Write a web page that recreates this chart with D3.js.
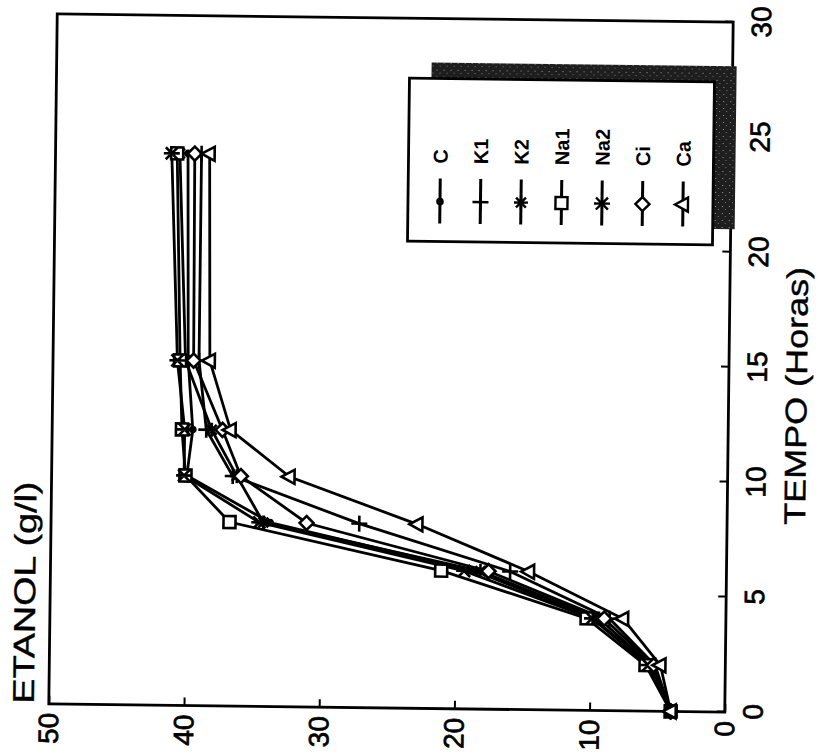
<!DOCTYPE html>
<html>
<head>
<meta charset="utf-8">
<script src="https://cdn.jsdelivr.net/npm/d3@7"></script>
<style>
  body { margin: 0; background: #fff; }
  text { font-family: "Liberation Sans", Arial, sans-serif; fill: #000; }
</style>
</head>
<body>
<svg width="828" height="756"></svg>
<script>
// data (ETANOL g/l vs TEMPO horas)
const horas = [0, 2, 4, 6, 8, 10, 12, 15, 24];
const serieC   = [4.0, 5.6, 9.8, 18.6, 33.8, 40.0, 39.6, 40.0, 40.2];
const serieK1  = [4.0, 5.2, 8.6, 16.0, 27.2, 36.6, 38.6, 39.2, 39.2];
const serieK2  = [4.0, 5.5, 9.4, 18.2, 34.3, 36.3, 38.2, 40.2, 40.8];
const serieNa1 = [4.0, 5.9, 10.3, 21.1, 36.8, 40.1, 40.4, 40.6, 41.0];
const serieNa2 = [4.0, 5.7, 9.9, 19.4, 34.6, 40.2, 40.2, 40.8, 41.4];
const serieCi  = [4.0, 5.3, 9.0, 17.6, 31.1, 36.0, 37.4, 39.6, 39.7];
const serieCa  = [4.0, 4.8, 7.6, 14.6, 22.9, 32.4, 36.8, 38.4, 38.6];
const nomes = ["C", "K1", "K2", "Na1", "Na2", "Ci", "Ca"];
const tempoTicks = [0, 5, 10, 15, 20, 25, 30];
const etanolTicks = [0, 10, 20, 30, 40, 50];

let W = 690, H = 676;   // plot size before the figure is turned on its side

var svg = d3.select('svg');

// speckled fill for the legend shadow
let pat = svg.append('defs').append('pattern')
    .attr('id', 'speckle')
    .attr('width', 7)
    .attr('height', 7)
    .attr('patternUnits', 'userSpaceOnUse');
pat.append('rect').attr('width', 7).attr('height', 7).attr('fill', '#1e1e1e');
pat.append('rect').attr('x', 1).attr('y', 2).attr('width', 1).attr('height', 1).attr('fill', '#9a9a9a');
pat.append('rect').attr('x', 5).attr('y', 5).attr('width', 1).attr('height', 1).attr('fill', '#777');

// the whole figure is printed rotated 90deg, and the scan is a little skewed
let chart = svg.append('g')
    .attr('transform', 'rotate(0.7, 391, 363) translate(53, 708) rotate(-90)');

var x = d3.scaleLinear().domain([0, 30]).range([0, W]);
var y = d3.scaleLinear().domain([0, 50]).range([H, 0]);

// markers, drawn in the unrotated frame
function markerPath(kind) {
    var p = d3.path();
    if (kind == 'dot') {
        p.arc(0, 0, 2.6, 0, 2 * Math.PI);
    } else if (kind == 'plus') {
        p.moveTo(-8, 0); p.lineTo(8, 0); p.moveTo(0, -8); p.lineTo(0, 8);
    } else if (kind == 'asterisk') {
        for (var i = 0; i < 4; i++) {
            var a = i * Math.PI / 4;
            p.moveTo(-7 * Math.cos(a), -7 * Math.sin(a));
            p.lineTo(7 * Math.cos(a), 7 * Math.sin(a));
        }
    } else if (kind == 'star') {
        p.moveTo(-6, -6); p.lineTo(6, 6); p.moveTo(-6, 6); p.lineTo(6, -6);
        p.moveTo(0, -8); p.lineTo(0, 8);
    } else if (kind == 'square') {
        p.rect(-6, -6, 12, 12);
    } else if (kind == 'diamond') {
        p.moveTo(0, -7); p.lineTo(7, 0); p.lineTo(0, 7); p.lineTo(-7, 0); p.closePath();
    } else if (kind == 'triangle') {
        p.moveTo(0, -8); p.lineTo(7, 5); p.lineTo(-7, 5); p.closePath();
    }
    return p.toString();
}
var markerKinds = ['dot', 'plus', 'asterisk', 'square', 'star', 'diamond', 'triangle'];
function markerFill(kind) {
    if (kind == 'dot') return '#000';
    if (kind == 'square' || kind == 'diamond' || kind == 'triangle') return '#fff';
    return 'none';
}

var allSeries = [serieC, serieK1, serieK2, serieNa1, serieNa2, serieCi, serieCa];
var series = nomes.map((n, i) => ({
    name: n,
    kind: markerKinds[i],
    points: horas.map((h, j) => ({t: h, v: allSeries[i][j]}))
}));

// axes
var tempoAxis = d3.axisBottom(x)
    .tickValues(tempoTicks)
    .tickSizeInner(-8)
    .tickSizeOuter(0)
    .tickPadding(18);
var etanolAxis = d3.axisLeft(y)
    .tickValues(etanolTicks)
    .tickSizeInner(-8)
    .tickSizeOuter(0)
    .tickPadding(9);

var gx = chart.append('g')
    .attr('transform', `translate(0, ${H})`)
    .call(tempoAxis);
var gy = chart.append('g')
    .call(etanolAxis);

[gx, gy].forEach(g => {
    g.select('.domain').remove();
    g.selectAll('.tick line').attr('stroke', '#000').attr('stroke-width', 2);
    g.selectAll('.tick text')
        .attr('font-size', 28)
        .attr('font-family', '"Liberation Sans", Arial, sans-serif')
        .attr('stroke', '#000')
        .attr('stroke-width', 0.7);
});

// frame
chart.append('rect')
    .attr('x', 0)
    .attr('y', 0)
    .attr('width', W)
    .attr('height', H)
    .attr('fill', 'none')
    .attr('stroke', '#000')
    .attr('stroke-width', 2.8);

// axis titles
chart.append('text')
    .attr('x', 0)
    .attr('y', -15)
    .attr('font-size', 30)
    .attr('textLength', 222)
    .attr('lengthAdjust', 'spacingAndGlyphs')
    .attr('stroke', '#000')
    .attr('stroke-width', 0.4)
    .text('ETANOL (g/l)');

chart.append('text')
    .attr('x', 317)
    .attr('y', H + 78)
    .attr('text-anchor', 'middle')
    .attr('font-size', 30)
    .attr('textLength', 258)
    .attr('lengthAdjust', 'spacingAndGlyphs')
    .attr('stroke', '#000')
    .attr('stroke-width', 0.4)
    .text('TEMPO (Horas)');

// curves
var line = d3.line()
    .x(d => x(d.t))
    .y(d => y(d.v));

chart.selectAll('.curve')
    .data(series)
    .enter()
    .append('path')
    .attr('class', 'curve')
    .attr('d', d => line(d.points))
    .attr('fill', 'none')
    .attr('stroke', '#000')
    .attr('stroke-width', 2.8);

series.forEach(s => {
    chart.selectAll(null)
        .data(s.points)
        .enter()
        .append('path')
        .attr('transform', d => `translate(${x(d.t)}, ${y(d.v)})`)
        .attr('d', markerPath(s.kind))
        .attr('fill', markerFill(s.kind))
        .attr('stroke', '#000')
        .attr('stroke-width', 2.6);
});

// legend with its dark drop shadow
let legX = 467, legY = 353, legW = 163, legH = 305;
let legend = chart.append('g');

legend.append('rect')
    .attr('x', legX + 16)
    .attr('y', legY + 22)
    .attr('width', legW)
    .attr('height', legH)
    .attr('fill', 'url(#speckle)');

legend.append('rect')
    .attr('x', legX)
    .attr('y', legY)
    .attr('width', legW)
    .attr('height', legH)
    .attr('fill', '#fff')
    .attr('stroke', '#000')
    .attr('stroke-width', 2.8);

var rows = legend.selectAll('.row')
    .data(series)
    .enter()
    .append('g')
    .attr('class', 'row')
    .attr('transform', (d, i) => `translate(${legX + 18}, ${legY + 32 + i * 40.5})`);

rows.append('line')
    .attr('x1', 0)
    .attr('x2', 45)
    .attr('y1', 0)
    .attr('y2', 0)
    .attr('stroke', '#000')
    .attr('stroke-width', 3);

rows.append('path')
    .attr('transform', 'translate(22, 0)')
    .attr('d', d => markerPath(d.kind))
    .attr('fill', d => markerFill(d.kind))
    .attr('stroke', '#000')
    .attr('stroke-width', 2.4);

rows.append('text')
    .attr('x', 60)
    .attr('y', 0)
    .attr('dy', '0.35em')
    .attr('font-size', 20)
    .attr('font-weight', 'bold')
    .text(d => d.name);
</script>
</body>
</html>
